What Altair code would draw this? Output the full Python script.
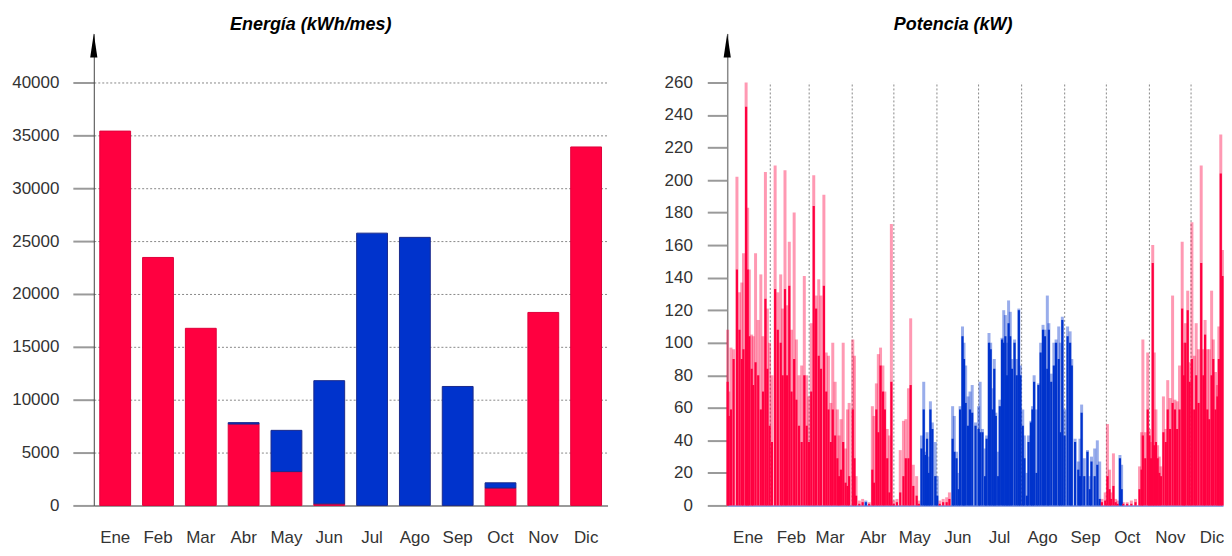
import altair as alt
import pandas as pd

# ---------------- Energía mensual (kWh/mes) ----------------
meses = ["Ene", "Feb", "Mar", "Abr", "May", "Jun", "Jul", "Ago", "Sep", "Oct", "Nov", "Dic"]
calefaccion = [35400, 23450, 16750, 7700, 3200, 150, 0, 0, 0, 1650, 18250, 33900]
refrigeracion = [0, 0, 0, 130, 3900, 11650, 25750, 25350, 11250, 490, 0, 0]
ticks_energia = [0, 5000, 10000, 15000, 20000, 25000, 30000, 35000, 40000]
tope_energia = 44620

# ---------------- Potencia (kW): picos ----------------
dias = [
    0.3, 1.1, 2.7, 4.6, 7.0, 8.8, 10.5, 11.7, 13.6, 14.7,
    15.9, 17.6, 18.7, 20.4, 22.3, 24.2, 25.8, 27.5, 28.9, 30.5,
    32.2, 34.5, 36.4, 38.5, 39.9, 41.6, 43.0, 44.7, 46.3, 48.2,
    49.8, 51.7, 53.6, 55.5, 57.2, 58.8, 60.5, 62.3, 64.0, 65.9,
    67.5, 69.6, 71.3, 72.9, 74.6, 76.0, 77.7, 79.3, 80.5, 81.9,
    83.5, 85.2, 86.6, 87.8, 90.4, 91.6, 92.8, 95.1, 97.5, 99.8,
    102.2, 104.5, 105.7, 107.4, 108.8, 110.4, 112.1, 113.5, 115.2, 116.8,
    118.2, 119.9, 122.2, 124.6, 126.9, 128.6, 130.5, 132.1, 134.0, 136.4,
    138.0, 139.9, 141.5, 142.7, 143.9, 145.1, 146.3, 147.7, 149.8, 151.2,
    153.0, 155.5, 158.0, 160.0, 162.3, 163.5, 165.1, 166.5, 167.7, 169.4,
    170.5, 171.7, 173.4, 174.8, 176.4, 178.8, 181.0, 182.1, 183.8, 185.7,
    186.8, 188.5, 189.7, 191.1, 192.3, 193.4, 195.1, 196.3, 197.9, 199.1,
    200.3, 201.5, 202.6, 203.8, 205.0, 206.9, 208.5, 210.0, 211.1, 212.8,
    214.0, 215.8, 217.0, 218.7, 219.8, 221.0, 222.7, 224.1, 225.7, 227.4,
    228.8, 230.5, 231.6, 233.3, 235.2, 236.8, 238.7, 239.9, 241.3, 242.9,
    245.1, 246.9, 248.1, 250.5, 252.8, 254.0, 255.2, 257.1, 259.4, 261.1,
    262.3, 264.6, 266.5, 268.2, 269.8, 272.2, 273.8, 275.3, 276.4, 278.1,
    279.7, 281.1, 282.8, 284.0, 285.2, 288.0, 291.0, 294.0, 296.9, 298.4,
    299.3, 301.0, 302.8, 304.0, 305.2, 306.4, 307.5, 308.7, 309.9, 311.1,
    312.3, 314.1, 315.8, 317.2, 318.9, 320.7, 322.4, 324.0, 325.7, 327.6,
    328.8, 329.9, 331.6, 333.0, 334.6, 336.3, 337.7, 339.4, 341.3, 342.9,
    344.1, 345.7, 347.1, 348.8, 350.0, 351.6, 353.0, 354.0, 355.4, 356.6,
]
pico = [
    108, 70, 97, 96, 202, 131, 137, 155, 260, 183,
    145, 105, 104, 155, 114, 142, 104, 205, 121, 100,
    80, 209, 131, 142, 121, 206, 123, 162, 108, 180,
    102, 80, 86, 141, 80, 67, 112, 203, 129, 139,
    129, 191, 94, 92, 63, 100, 76, 59, 43, 53,
    100, 35, 59, 63, 102, 92, 18, 3, 4, 3,
    2, 61, 55, 75, 93, 97, 86, 70, 47, 43,
    173, 3, 4, 34, 52, 53, 72, 115, 25, 18,
    3, 43, 76, 33, 45, 30, 64, 51, 39, 18,
    3, 4, 5, 8, 61, 55, 33, 20, 61, 110,
    100, 86, 67, 70, 74, 51, 61, 76, 47, 35,
    43, 106, 100, 72, 90, 57, 33, 65, 103, 120,
    117, 100, 126, 119, 90, 102, 90, 121, 86, 59,
    43, 20, 43, 52, 61, 80, 59, 75, 100, 111,
    108, 129, 112, 81, 100, 102, 110, 100, 116, 59,
    110, 107, 90, 41, 27, 41, 62, 29, 34, 18,
    30, 35, 40, 27, 4, 8, 50, 22, 8, 32,
    4, 3, 31, 25, 2, 2, 3, 4, 24, 45,
    102, 45, 94, 47, 39, 160, 94, 59, 37, 30,
    24, 67, 47, 77, 66, 129, 65, 64, 86, 162,
    100, 112, 132, 88, 174, 92, 112, 96, 209, 96,
    114, 96, 96, 132, 102, 82, 74, 110, 228, 157,
]
base = [
    76, 55, 59, 90, 145, 108, 90, 96, 245, 145,
    104, 84, 74, 88, 80, 59, 70, 127, 84, 49,
    39, 133, 108, 100, 80, 133, 80, 135, 70, 90,
    65, 49, 39, 80, 49, 39, 70, 184, 121, 92,
    84, 135, 70, 59, 39, 59, 43, 29, 18, 22,
    39, 14, 12, 18, 59, 29, 6, 1, 2, 2,
    1, 22, 14, 59, 45, 86, 70, 59, 29, 8,
    76, 1, 2, 8, 18, 29, 29, 74, 12, 6,
    1, 35, 59, 31, 41, 20, 59, 47, 18, 6,
    1, 2, 2, 4, 41, 33, 29, 10, 59, 104,
    90, 63, 49, 59, 57, 49, 47, 45, 45, 18,
    41, 100, 96, 59, 84, 55, 18, 61, 102, 100,
    104, 80, 112, 104, 84, 100, 80, 120, 80, 49,
    29, 6, 39, 51, 59, 76, 20, 74, 94, 108,
    104, 84, 108, 76, 86, 100, 90, 45, 114, 43,
    104, 100, 86, 39, 22, 18, 57, 18, 33, 10,
    27, 18, 25, 4, 2, 3, 18, 10, 4, 12,
    2, 1, 29, 10, 1, 1, 1, 2, 10, 22,
    43, 29, 59, 43, 29, 149, 37, 39, 29, 20,
    18, 45, 39, 59, 47, 63, 59, 47, 59, 121,
    80, 100, 120, 76, 90, 59, 80, 63, 149, 80,
    105, 59, 53, 80, 90, 59, 67, 90, 204, 141,
]
# C = calefacción (rojo), F = refrigeración (azul)
modo_txt = [
    "CCCCCCCCCC", "CCCCCCCCCC", "CCCCCCCCCC", "CCCCCCCCCC", "CCCCCCCCCC",
    "CCCCCCCCCF", "CCCCCCCCCC", "CCCCCCCCCC", "CFFFFFFFFF", "CCCCFFFFFF",
    "FFFFFFFFFF", "FFFFFFFFFF", "FFFFFFFFFF", "FFFFFFFFFF", "FFFFFFFFFF",
    "FFFFFFFFFF", "FFFFCCCCCC", "CCFFCCCCCC", "CCCCCCCCCC", "CCCCCCCCCC",
    "CCCCCCCCCC", "CCCCCCCCCC",
]
modo = list("".join(modo_txt))
ticks_potencia = [0, 20, 40, 60, 80, 100, 120, 140, 160, 180, 200, 220, 240, 260]
tope_potencia = 290
inicio_mes = [0, 31, 59, 90, 120, 151, 181, 212, 243, 273, 304, 334]
fin_dias = 357

ROJO = "#FF0040"
AZUL = "#0033CC"
FUENTE = "Liberation Sans"
FLECHA = "M0,-1L0.3,1L-0.3,1Z"

# ---------------- Panel izquierdo ----------------
filas = []
for i, m in enumerate(meses):
    if calefaccion[i] > 0:
        filas.append({"mes": m, "serie": "C", "kwh": calefaccion[i], "orden": 0})
    if refrigeracion[i] > 0:
        filas.append({"mes": m, "serie": "F", "kwh": refrigeracion[i], "orden": 1})
df_e = pd.DataFrame(filas)

col_serie = alt.Scale(domain=["C", "F"], range=[ROJO, AZUL])
borde_serie = alt.Scale(domain=["C", "F"], range=["#E0003A", "#1A2A8C"])

barras = alt.Chart(df_e).mark_bar(strokeWidth=1).encode(
    x=alt.X("mes:N", sort=meses,
            scale=alt.Scale(paddingInner=0.28, paddingOuter=0.14),
            axis=alt.Axis(title=None, labelAngle=0, ticks=False, tickSize=0, labelPadding=24,
                          labelFontSize=17, labelColor="#333333", labelFont=FUENTE,
                          domainColor="#9a9a9a", domainWidth=2, grid=False)),
    y=alt.Y("kwh:Q", stack="zero",
            scale=alt.Scale(domain=[0, tope_energia], nice=False),
            axis=alt.Axis(title=None, values=ticks_energia, format="d", tickSize=21,
                          tickColor="#9a9a9a", tickWidth=2, labelPadding=14, labelFontSize=17,
                          labelColor="#333333", labelFont=FUENTE, domainColor="#444444",
                          domainWidth=1, gridColor="#888888", gridDash=[2, 2], gridWidth=1)),
    color=alt.Color("serie:N", scale=col_serie, legend=None),
    stroke=alt.Stroke("serie:N", scale=borde_serie, legend=None),
    order=alt.Order("orden:Q"),
)

flecha_e = alt.Chart(pd.DataFrame({"a": [0]})).mark_point(
    shape=FLECHA, size=576, filled=True, color="black", opacity=1
).encode(x=alt.value(0), y=alt.value(12))

izq = alt.layer(barras, flecha_e).properties(
    width=515, height=473,
    title=alt.TitleParams("Energía (kWh/mes)", fontSize=18, fontStyle="italic", fontWeight="bold",
                          font=FUENTE, anchor="middle", frame="group", dx=-40, offset=-14,
                          baseline="alphabetic", color="black"),
)

# ---------------- Panel derecho ----------------
df_p = pd.DataFrame({"dia": dias, "pico": pico, "base": base, "modo": modo})
df_g = pd.DataFrame({"dia": inicio_mes[1:]})

esc_x = alt.Scale(domain=[0, fin_dias], nice=False, zero=False)
esc_y = alt.Scale(domain=[0, tope_potencia], nice=False)
col_modo = alt.Color("modo:N", scale=col_serie, legend=None)

expr = "''"
for v, m in reversed(list(zip(inicio_mes, meses))):
    expr = f"datum.value == {v} ? '{m}' : ({expr})"

eje_x = alt.Axis(title=None, values=inicio_mes, labelExpr=expr, labelOffset=20.5, ticks=False,
                 tickSize=0, labelPadding=24, labelFontSize=17, labelColor="#333333",
                 labelFont=FUENTE, labelFlush=False, labelOverlap=False, labelBound=False,
                 domainColor="#95a6e0", domainWidth=2, grid=False)
eje_y = alt.Axis(title=None, values=ticks_potencia, format="d", tickSize=20, tickColor="#9a9a9a",
                 tickWidth=2, labelPadding=15, labelFontSize=17, labelColor="#333333",
                 labelFont=FUENTE, domainColor="#8a8a8a", domainWidth=1.5,
                 gridColor="#888888", gridDash=[2, 2], gridWidth=1)

rejilla = alt.Chart(df_g).mark_rule(color="#888888", strokeDash=[2, 2], strokeWidth=1).encode(
    x=alt.X("dia:Q", scale=esc_x, axis=eje_x),
    y=alt.YDatum(0, scale=esc_y, axis=eje_y),
    y2=alt.datum(260),
)

picos = alt.Chart(df_p).mark_rule(strokeWidth=3.0, opacity=0.4).encode(
    x=alt.X("dia:Q", scale=esc_x, axis=eje_x),
    y=alt.Y("pico:Q", scale=esc_y, axis=eje_y),
    y2=alt.datum(0),
    color=col_modo,
)
bases = alt.Chart(df_p).mark_rule(strokeWidth=2.2).encode(
    x=alt.X("dia:Q", scale=esc_x, axis=eje_x),
    y=alt.Y("base:Q", scale=esc_y, axis=eje_y),
    y2=alt.datum(0),
    color=col_modo,
)
flecha_p = alt.Chart(pd.DataFrame({"a": [0]})).mark_point(
    shape=FLECHA, size=576, filled=True, color="black", opacity=1
).encode(x=alt.value(0), y=alt.value(12))

der = alt.layer(rejilla, picos, bases, flecha_p).properties(
    width=497, height=473,
    title=alt.TitleParams("Potencia (kW)", fontSize=18, fontStyle="italic", fontWeight="bold",
                          font=FUENTE, anchor="middle", frame="group", dx=-22, offset=-14,
                          baseline="alphabetic", color="black"),
)

chart = alt.hconcat(izq, der, spacing=56).configure(
    padding={"left": 3, "top": 7, "right": 0, "bottom": 0},
    background="white",
).configure_view(stroke=None)

chart.save("out.html", embed_options={"renderer": "svg", "actions": False})
